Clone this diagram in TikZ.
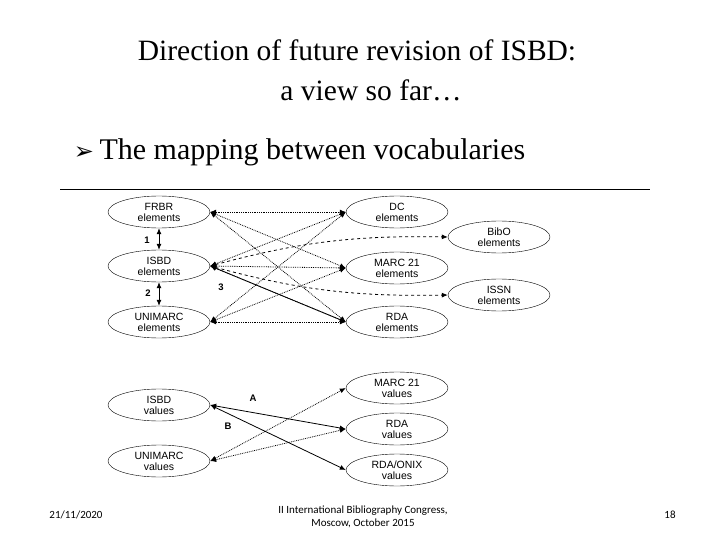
\documentclass[tikz,border=0pt]{standalone}
\usepackage{fontspec}
\setmainfont{Liberation Serif}
\newfontfamily\arial{Liberation Sans}
\newfontfamily\calib{Carlito}
\newfontfamily\dejavu{DejaVu Sans}
\usetikzlibrary{shapes.geometric,arrows.meta}
\begin{document}
\begin{tikzpicture}[x=1pt,y=-1pt,
  ell/.style={draw,ellipse,minimum width=102pt,minimum height=32pt,inner sep=0pt,align=center,font=\arial\fontsize{10.5}{11}\selectfont},
  dtip/.style={{Latex[length=6pt,width=5pt]}-{Latex[length=6pt,width=5pt]}},
  dot/.style={dtip,densely dotted,thick},
  dsh/.style={dtip,dashed,thick},
  sol/.style={dtip,thick},
  lab/.style={font=\arial\bfseries\fontsize{9.5}{10}\selectfont},
  foot/.style={font=\calib\fontsize{11}{13}\selectfont,align=center}]
\useasboundingbox (0,0) rectangle (720,540);
\node (t1) at (357,50) {\fontsize{29.5}{32}\selectfont Direction of future revision of ISBD:};
\node (t2) at (371,90) {\fontsize{29.5}{32}\selectfont a view so far\ldots};
\node (b) at (84,153) {\dejavu\fontsize{24}{26}\selectfont ➢};
\node[anchor=west] (t3) at (96,152) {\fontsize{30}{32}\selectfont The mapping between vocabularies};
\coordinate (l1) at (60,189); \coordinate (l2) at (650,189);
\draw (l1) -- (l2);
% elements
\node[ell] (frbr) at (159,212) {FRBR\\elements};
\node[ell] (isbd) at (159,266) {ISBD\\elements};
\node[ell] (unim) at (159,322) {UNIMARC\\elements};
\node[ell] (dc) at (397,212) {DC\\elements};
\node[ell] (bibo) at (499,237) {BibO\\elements};
\node[ell] (marc) at (397,268) {MARC 21\\elements};
\node[ell] (issn) at (499,295) {ISSN\\elements};
\node[ell] (rda) at (397,322) {RDA\\elements};
\draw[dtip,thick] (frbr) -- (isbd);
\draw[dtip,thick] (isbd) -- (unim);
\node[lab] (n1) at (147,240) {1};
\node[lab] (n2) at (148,293) {2};
\node[lab] (n3) at (221,287) {3};
\foreach \s in {frbr,isbd,unim}{
  \draw[dot] (\s.east) -- (dc.west);
  \draw[dot] (\s.east) -- (rda.west);
}
\draw[dot] (frbr.east) -- (marc.west);
\draw[dot] (isbd.east) -- (marc.west);
\draw[dot] (unim.east) -- (marc.west);
\draw[sol] (isbd.east) -- (rda.west);
\draw[dsh] (isbd.east) to[bend left=8] (bibo.west);
\draw[dsh] (isbd.east) to[bend right=8] (issn.west);
% values
\node[ell] (isv) at (159,405) {ISBD\\values};
\node[ell] (unv) at (159,461) {UNIMARC\\values};
\node[ell] (mav) at (397,388) {MARC 21\\values};
\node[ell] (rdv) at (397,429) {RDA\\values};
\node[ell] (onx) at (397,470) {RDA/ONIX\\values};
\draw[sol] (isv.east) -- (rdv.west);
\draw[sol] (isv.east) -- (onx.west);
\draw[dot] (unv.east) -- (mav.west);
\draw[dot] (unv.east) -- (rdv.west);
\node[lab] (na) at (253,398) {A};
\node[lab] (nb) at (228,426) {B};
% footer
\node[foot] (d) at (76,515) {21/11/2020};
\node[foot] (f) at (363,517) {II International Bibliography Congress,\\Moscow, October 2015};
\node[foot] (p) at (670,515) {18};
\end{tikzpicture}
\end{document}
